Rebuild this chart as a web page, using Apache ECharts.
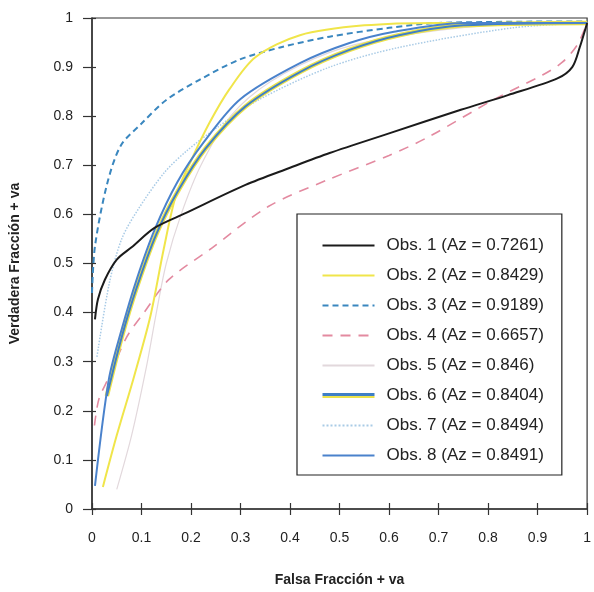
<!DOCTYPE html>
<html>
<head>
<meta charset="utf-8">
<script src="https://cdn.jsdelivr.net/npm/echarts@6/dist/echarts.min.js"></script>
<style>
  html, body { margin: 0; padding: 0; background: #fff; }
  #chart { width: 594px; height: 592px; }
</style>
</head>
<body>
<div id="chart"></div>
<script>
// Tick labels shared by both axes
const tickLabels = ['0', '0.1', '0.2', '0.3', '0.4', '0.5', '0.6', '0.7', '0.8', '0.9', '1'];

// Series names as in the legend
const names = [
    'Obs. 1 (Az = 0.7261)',
    'Obs. 2 (Az = 0.8429)',
    'Obs. 3 (Az = 0.9189)',
    'Obs. 4 (Az = 0.6657)',
    'Obs. 5 (Az = 0.846)',
    'Obs. 6 (Az = 0.8404)',
    'Obs. 7 (Az = 0.8494)',
    'Obs. 8 (Az = 0.8491)'
];

// Points: false positive fraction (x) / true positive fraction (y)
const obs1X = [0.006, 0.012, 0.026, 0.05, 0.08, 0.127, 0.19, 0.31, 0.4, 0.48, 0.6, 0.745, 0.84, 0.94, 0.97, 0.985, 1];
const obs1Y = [0.386, 0.427, 0.467, 0.508, 0.533, 0.573, 0.603, 0.66, 0.695, 0.725, 0.765, 0.813, 0.843, 0.877, 0.9, 0.94, 0.99];

const obs2X = [0.022, 0.05, 0.085, 0.118, 0.145, 0.17, 0.204, 0.237, 0.277, 0.33, 0.42, 0.55, 0.7, 1];
const obs2Y = [0.045, 0.15, 0.27, 0.393, 0.53, 0.64, 0.718, 0.786, 0.854, 0.92, 0.965, 0.985, 0.99, 0.99];

const obs3X = [0, 0.006, 0.03, 0.058, 0.1, 0.15, 0.217, 0.297, 0.38, 0.48, 0.6, 0.7, 1];
const obs3Y = [0.44, 0.535, 0.66, 0.74, 0.785, 0.833, 0.874, 0.915, 0.94, 0.962, 0.98, 0.99, 0.993];

const obs4X = [0.005, 0.014, 0.035, 0.07, 0.105, 0.155, 0.24, 0.356, 0.475, 0.6, 0.68, 0.81, 0.91, 0.95, 0.98, 1];
const obs4Y = [0.17, 0.224, 0.27, 0.35, 0.4, 0.467, 0.53, 0.616, 0.67, 0.72, 0.758, 0.833, 0.884, 0.91, 0.945, 0.99];

const obs5X = [0.05, 0.08, 0.11, 0.13, 0.15, 0.18, 0.22, 0.28, 0.36, 0.48, 0.6, 0.8, 1];
const obs5Y = [0.04, 0.15, 0.29, 0.4, 0.5, 0.6, 0.7, 0.8, 0.87, 0.93, 0.96, 0.985, 0.99];

const obs6X = [0.03, 0.06, 0.09, 0.13, 0.175, 0.23, 0.31, 0.42, 0.52, 0.62, 0.75, 1];
const obs6Y = [0.23, 0.35, 0.45, 0.56, 0.65, 0.735, 0.82, 0.89, 0.935, 0.965, 0.985, 0.99];

const obs7X = [0.01, 0.035, 0.06, 0.093, 0.146, 0.192, 0.25, 0.336, 0.48, 0.62, 0.85, 1];
const obs7Y = [0.31, 0.46, 0.55, 0.61, 0.685, 0.73, 0.775, 0.833, 0.9, 0.94, 0.98, 0.99];

const obs8X = [0.006, 0.034, 0.06, 0.09, 0.127, 0.172, 0.225, 0.3, 0.42, 0.52, 0.61, 0.75, 1];
const obs8Y = [0.047, 0.264, 0.366, 0.467, 0.57, 0.665, 0.746, 0.835, 0.908, 0.949, 0.972, 0.99, 0.99];

function zip(xs, ys) {
    return xs.map(function (x, i) { return [x, ys[i]]; });
}

const FONT = 'Liberation Sans';
const BLUE6 = '#3f7fc6';
const YELLOW6 = '#ece24a';

let chart = echarts.init(document.getElementById('chart'));

function lineSeries(name, data, color, width, type) {
    return {
        name: name,
        type: 'line',
        data: data,
        smooth: 0.3,
        symbol: 'none',
        lineStyle: { color: color, width: width, type: type || 'solid' },
        itemStyle: { color: color },
        z: 3
    };
}

let axisCommon = {
    type: 'value',
    min: 0,
    max: 1,
    interval: 0.1,
    splitLine: { show: false }
};

let options = {
    animation: false,
    backgroundColor: '#fff',
    grid: {
        left: 86,
        right: 2,
        top: 18,
        bottom: 82,
        show: true,
        borderColor: '#333',
        borderWidth: 1.2,
        containLabel: false
    },
    legend: {
        orient: 'vertical',
        left: 297,
        top: 214,
        backgroundColor: '#fff',
        borderColor: '#222',
        borderWidth: 1.2,
        padding: [23, 18, 11, 23],
        itemWidth: 52,
        itemHeight: 14,
        itemGap: 13,
        itemStyle: { opacity: 0 },
        textStyle: { fontFamily: FONT, fontSize: 17, color: '#222', padding: [0, 0, 0, 7] },
        data: [
            names[0], names[1], names[2], names[3], names[4],
            {
                name: names[5],
                lineStyle: {
                    width: 5,
                    color: {
                        type: 'linear', x: 0, y: 0, x2: 0, y2: 1,
                        colorStops: [
                            { offset: 0, color: BLUE6 }, { offset: 0.5, color: BLUE6 },
                            { offset: 0.5, color: YELLOW6 }, { offset: 1, color: YELLOW6 }
                        ]
                    }
                }
            },
            names[6], names[7]
        ]
    },
    xAxis: [
        Object.assign({}, axisCommon, {
            name: 'Falsa Fracción + va',
            nameLocation: 'middle',
            nameGap: 64,
            nameTextStyle: { fontFamily: FONT, fontSize: 14, fontWeight: 'bold', color: '#222' },
            axisLine: { lineStyle: { color: '#333', width: 1.5 } },
            axisTick: { length: 6, lineStyle: { color: '#333', width: 1.2 } },
            axisLabel: {
                margin: 22, fontFamily: FONT, fontSize: 14, color: '#222',
                formatter: function (v) { return tickLabels[Math.round(v * 10)]; }
            }
        }),
        Object.assign({}, axisCommon, {
            position: 'bottom',
            axisLine: { show: false },
            axisTick: { inside: true, length: 6, lineStyle: { color: '#333', width: 1.2 } },
            axisLabel: { show: false }
        })
    ],
    yAxis: [
        Object.assign({}, axisCommon, {
            name: 'Verdadera Fracción + va',
            nameLocation: 'middle',
            nameGap: 70,
            nameTextStyle: { fontFamily: FONT, fontSize: 14, fontWeight: 'bold', color: '#222' },
            axisLine: { lineStyle: { color: '#333', width: 1.5 } },
            axisTick: { length: 9, lineStyle: { color: '#333', width: 1.2 } },
            axisLabel: {
                margin: 19, fontFamily: FONT, fontSize: 14, color: '#222',
                formatter: function (v) { return tickLabels[Math.round(v * 10)]; }
            }
        }),
        Object.assign({}, axisCommon, {
            position: 'left',
            axisLine: { show: false },
            axisTick: { inside: true, length: 4, lineStyle: { color: '#333', width: 1.2 } },
            axisLabel: { show: false }
        })
    ],
    series: [
        lineSeries(names[4], zip(obs5X, obs5Y), '#e2d8dc', 1.2),
        lineSeries(names[6], zip(obs7X, obs7Y), '#a9cbe6', 1.5, 'dotted'),
        lineSeries(names[3], zip(obs4X, obs4Y), '#e38aa0', 1.6, [10, 8]),
        lineSeries(names[2], zip(obs3X, obs3Y), '#3a87bf', 2, [6, 4]),
        lineSeries(names[1], zip(obs2X, obs2Y), '#f0e54a', 2),
        // Obs. 6 is drawn as a blue line over a wider yellow one, as in its legend key
        lineSeries('obs6-under', zip(obs6X, obs6Y), YELLOW6, 4.5),
        lineSeries(names[5], zip(obs6X, obs6Y), BLUE6, 2),
        lineSeries(names[7], zip(obs8X, obs8Y), '#4a82cc', 2),
        lineSeries(names[0], zip(obs1X, obs1Y), '#1b1b1b', 2)
    ]
};

chart.setOption(options);

window.addEventListener('resize', function () {
    chart.resize();
});
</script>
</body>
</html>
